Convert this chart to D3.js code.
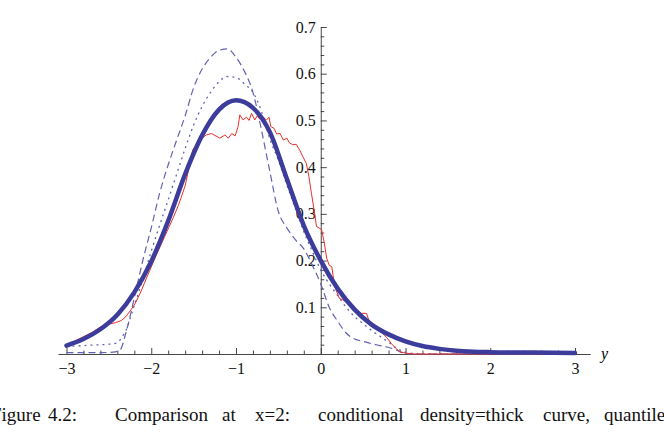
<!DOCTYPE html>
<html lang="en">
<head>
  <meta charset="UTF-8">
  <title>Figure 4.2</title>
  <script src="https://d3js.org/d3.v7.min.js"></script>
  <style>
    body { margin: 0; background: #fff; }
    svg { display: block; }
    text { font-family: "Liberation Serif", "DejaVu Serif", serif; }
  </style>
</head>
<body>
<svg id="chart" width="664" height="447"></svg>
<script>
// conditional density (thick curve)
const densX = [-3.0, -2.8, -2.6, -2.4, -2.2, -2.0, -1.8, -1.6, -1.4, -1.2, -1.0, -0.8, -0.6, -0.4, -0.2, 0.0,
               0.2, 0.4, 0.6, 0.8, 1.0, 1.2, 1.4, 1.6, 1.8, 2.0, 2.5, 3.0];
const densY = [0.018, 0.032, 0.053, 0.084, 0.132, 0.198, 0.285, 0.385, 0.468, 0.523, 0.543, 0.527, 0.475, 0.375, 0.275, 0.200,
               0.140, 0.095, 0.063, 0.042, 0.027, 0.017, 0.011, 0.007, 0.005, 0.004, 0.003, 0.002];

// dashed curve
const dashX = [-3.0, -2.8, -2.6, -2.45, -2.37, -2.3, -2.2, -2.1, -2.0, -1.9, -1.8, -1.7, -1.6, -1.5, -1.4, -1.3, -1.2, -1.1,
               -1.0, -0.9, -0.8, -0.7, -0.6, -0.5, -0.4, -0.3, -0.2, -0.1, 0.0, 0.1, 0.2, 0.3, 0.4, 0.5, 0.6, 0.7, 0.8,
               0.9, 0.97, 1.05, 2.0, 3.0];
const dashY = [0.003, 0.003, 0.003, 0.004, 0.008, 0.045, 0.12, 0.20, 0.27, 0.345, 0.405, 0.458, 0.51, 0.57, 0.61, 0.635, 0.65, 0.653,
               0.635, 0.605, 0.56, 0.48, 0.39, 0.305, 0.27, 0.245, 0.225, 0.19, 0.15, 0.10, 0.07, 0.045, 0.032, 0.027, 0.022, 0.018, 0.014,
               0.008, 0.002, 0.0, 0.0, 0.0];

// dotted curve
const dotX = [-3.0, -2.7, -2.5, -2.4, -2.35, -2.3, -2.23, -2.1, -2.0, -1.9, -1.8, -1.7, -1.6, -1.5, -1.4, -1.3, -1.2, -1.1,
              -1.0, -0.9, -0.8, -0.7, -0.6, -0.5, -0.4, -0.3, -0.2, -0.1, 0.0, 0.1, 0.2, 0.3, 0.4, 0.5, 0.6, 0.7, 0.8,
              0.9, 1.0, 1.2, 3.0];
const dotY = [0.016, 0.019, 0.021, 0.024, 0.035, 0.05, 0.087, 0.16, 0.22, 0.276, 0.33, 0.385, 0.44, 0.49, 0.53, 0.56, 0.583, 0.594,
              0.592, 0.578, 0.56, 0.52, 0.46, 0.415, 0.362, 0.312, 0.262, 0.22, 0.18, 0.15, 0.125, 0.10, 0.08, 0.065, 0.05, 0.038, 0.025,
              0.012, 0.004, 0.0, 0.0];

// empirical (red, jagged)
const empX = [-3.0, -2.9, -2.8, -2.7, -2.6, -2.5, -2.42, -2.35, -2.3, -2.25, -2.2, -2.13, -2.05, -1.94, -1.84, -1.74, -1.68, -1.6,
              -1.51, -1.43, -1.35, -1.29, -1.19, -1.13, -1.09, -1.05, -1.01, -0.975, -0.955, -0.916, -0.876, -0.845, -0.817,
              -0.778, -0.75, -0.72, -0.68, -0.64, -0.61, -0.59, -0.55, -0.52, -0.48, -0.44, -0.40, -0.37, -0.33, -0.29, -0.25,
              -0.21, -0.17, -0.14, -0.11, -0.08, -0.05, -0.02, 0.01, 0.04, 0.07, 0.10, 0.13, 0.165, 0.22, 0.26, 0.30, 0.38,
              0.43, 0.48, 0.54, 0.58, 0.65, 0.73, 0.78, 0.83, 0.88, 0.93, 1.0, 1.1, 2.0, 3.0];
const empY = [0.019, 0.028, 0.037, 0.046, 0.058, 0.064, 0.067, 0.072, 0.080, 0.092, 0.105, 0.130, 0.165, 0.212, 0.252, 0.292, 0.318, 0.36,
              0.437, 0.458, 0.469, 0.472, 0.462, 0.469, 0.462, 0.472, 0.467, 0.487, 0.512, 0.501, 0.507, 0.5, 0.515,
              0.501, 0.51, 0.503, 0.507, 0.501, 0.507, 0.487, 0.483, 0.471, 0.472, 0.458, 0.462, 0.452, 0.448, 0.449, 0.437,
              0.422, 0.408, 0.38, 0.344, 0.31, 0.273, 0.27, 0.266, 0.24, 0.205, 0.19, 0.187, 0.144, 0.119, 0.116, 0.112, 0.105,
              0.092, 0.087, 0.087, 0.066, 0.055, 0.044, 0.035, 0.023, 0.013, 0.005, 0.002, 0.0, 0.0, 0.0];

const xMajor = [-3, -2, -1, 0, 1, 2, 3];
const yMajor = [0.1, 0.2, 0.3, 0.4, 0.5, 0.6, 0.7];

const svg = d3.select("#chart");
const x = d3.scaleLinear().domain([-3, 3]).range([66.5, 575]);
const y = d3.scaleLinear().domain([0, 0.7]).range([354, 27]);

const serif = '"Liberation Serif", "DejaVu Serif", serif';
const axisColor = "#333";

// x axis (line runs a bit past the data range)
const xAxisScale = d3.scaleLinear().domain([-3.1, 3.18]).range([x(-3.1), x(3.18)]);
const xMinor = d3.range(-30, 31, 2).map(d => d / 10).filter(d => !Number.isInteger(d));

const gx = svg.append("g").attr("transform", `translate(0,${y(0)})`);
gx.call(d3.axisBottom(xAxisScale).tickValues(xMajor).tickSizeInner(-6).tickSizeOuter(0).tickPadding(9)
  .tickFormat(d => d < 0 ? "\u2212" + Math.abs(d) : d));
gx.append("g").call(d3.axisBottom(xAxisScale).tickValues(xMinor).tickSizeInner(-3.5).tickSizeOuter(0).tickFormat(""))
  .select(".domain").remove();

// y axis
const yMinor = d3.range(2, 70, 2).filter(d => d % 10 !== 0).map(d => d / 100);
const gy = svg.append("g").attr("transform", `translate(${x(0)},0)`);
gy.call(d3.axisLeft(y).tickValues(yMajor).tickSizeInner(-6).tickSizeOuter(0).tickPadding(5)
  .tickFormat(d3.format(".1f")));
gy.append("g").call(d3.axisLeft(y).tickValues(yMinor).tickSizeInner(-3.5).tickSizeOuter(0).tickFormat(""))
  .select(".domain").remove();

svg.selectAll("g").attr("font-family", null).attr("font-size", null);
svg.selectAll(".domain, .tick line").attr("stroke", axisColor).attr("stroke-width", 0.9);
svg.selectAll(".tick text").style("font-family", serif).style("font-size", "16px").attr("fill", "#111");

// axis label
svg.append("text")
  .attr("x", 601).attr("y", 359)
  .style("font-family", serif).style("font-style", "italic").style("font-size", "16px")
  .text("y");

// curves
const line = d3.line().x(d => x(d[0])).y(d => y(d[1]));
const smooth = d3.line().x(d => x(d[0])).y(d => y(d[1])).curve(d3.curveMonotoneX);

svg.append("path")
  .datum(d3.zip(dashX, dashY))
  .attr("fill", "none").attr("stroke", "#6262b2").attr("stroke-width", 1.2)
  .attr("stroke-dasharray", "7,4")
  .attr("d", smooth);

svg.append("path")
  .datum(d3.zip(dotX, dotY))
  .attr("fill", "none").attr("stroke", "#6262b2").attr("stroke-width", 1.3)
  .attr("stroke-dasharray", "2,4")
  .attr("d", smooth);

svg.append("path")
  .datum(d3.zip(empX, empY))
  .attr("fill", "none").attr("stroke", "#e8302a").attr("stroke-width", 1)
  .attr("d", line);

svg.append("path")
  .datum(d3.zip(densX, densY))
  .attr("fill", "none").attr("stroke", "#3c3c9c").attr("stroke-width", 4.5)
  .attr("stroke-linecap", "round")
  .attr("d", smooth);

// caption (justified line, cut at both edges as in the source page)
const captionWords = ["Figure", "4.2:", "Comparison", "at", "x=2:", "conditional", "density=thick", "curve,", "quantile"];
const captionX = [-9, 48, 115, 222, 255, 318, 420, 543, 604];
svg.append("g").selectAll("text")
  .data(captionWords)
  .enter().append("text")
  .attr("x", (d, i) => captionX[i])
  .attr("y", 421)
  .style("font-family", serif)
  .style("font-size", "19px")
  .attr("fill", "#111")
  .text(d => d);
</script>
</body>
</html>
